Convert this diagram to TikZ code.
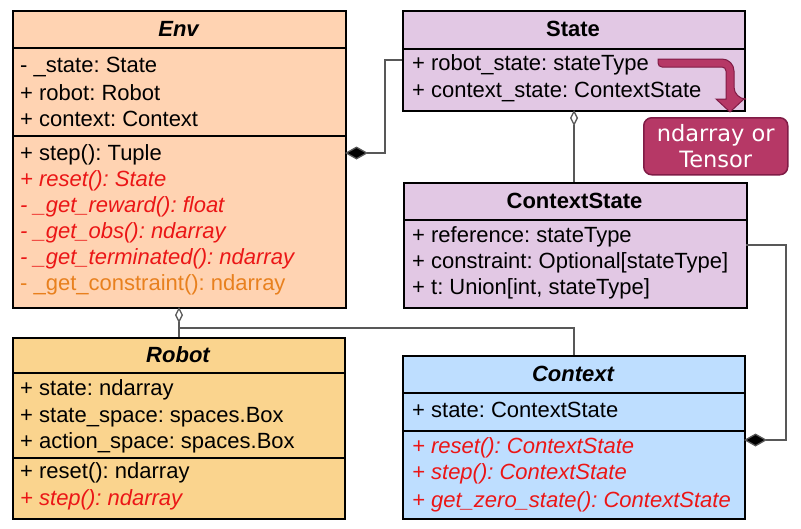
\documentclass[tikz,border=0pt]{standalone}
\usepackage{fontspec}
\setmainfont{Liberation Sans}
\newfontfamily\calloutfont{DejaVu Sans}
\usetikzlibrary{arrows.meta}
\frenchspacing

\definecolor{envfill}{RGB}{255,211,178}
\definecolor{robotfill}{RGB}{250,212,142}
\definecolor{statefill}{RGB}{226,200,228}
\definecolor{ctxfill}{RGB}{190,222,255}
\definecolor{abstractred}{RGB}{235,22,22}
\definecolor{hookorange}{RGB}{232,128,30}
\definecolor{calloutfill}{RGB}{182,56,102}
\definecolor{calloutedge}{RGB}{128,28,70}
\definecolor{linkgray}{RGB}{88,88,88}

\tikzset{
  classbox/.style={draw=black, line width=2pt, anchor=north west, inner sep=0pt},
  divider/.style={draw=black, line width=1.3pt},
  ctitle/.style={font=\fontsize{22}{24}\selectfont\bfseries, inner sep=0pt},
  row/.style={anchor=west, font=\fontsize{22}{24}\selectfont, inner sep=0pt},
  abstractrow/.style={row, text=abstractred, font=\fontsize{22}{24}\selectfont\itshape},
  hookrow/.style={row, text=hookorange},
  link/.style={draw=linkgray, line width=1.3pt},
  composite/.style={link, {Diamond[length=23pt, width=13pt, fill=black]}-},
  aggregate/.style={link, {Diamond[open, length=16pt, width=8pt, fill=white]}-},
}

\begin{document}
\begin{tikzpicture}[x=1pt, y=-1pt]
\useasboundingbox (0,0) rectangle (801,528);

% ---------- Env ----------
\node[classbox, fill=envfill, minimum width=333pt, minimum height=297pt] (env) at (12,10) {};
\draw[divider] (12,48) -- (345,48);
\draw[divider] (12,136) -- (345,136);
\node[ctitle] (env-t) at (178.5,29) {\itshape Env};
\node[row] (env-a1) at (20,67) {- \_state: State};
\node[row] (env-a2) at (20,93) {+ robot: Robot};
\node[row] (env-a3) at (20,119) {+ context: Context};
\node[row] (env-m1) at (20,155) {+ step(): Tuple};
\node[abstractrow] (env-m2) at (20,181) {+ reset(): State};
\node[abstractrow] (env-m3) at (20,207) {- \_get\_reward(): float};
\node[abstractrow] (env-m4) at (20,233) {- \_get\_obs(): ndarray};
\node[abstractrow] (env-m5) at (20,259) {- \_get\_terminated(): ndarray};
\node[hookrow] (env-m6) at (20,285) {- \_get\_constraint(): ndarray};

% ---------- State ----------
\node[classbox, fill=statefill, minimum width=342pt, minimum height=100pt] (state) at (402,10) {};
\draw[divider] (402,49) -- (744,49);
\node[ctitle] (state-t) at (573,29) {State};
\node[row] (state-a1) at (412,65) {+ robot\_state: stateType};
\node[row] (state-a2) at (412,92) {+ context\_state: ContextState};

% ---------- ContextState ----------
\node[classbox, fill=statefill, minimum width=343pt, minimum height=125pt] (cstate) at (403,182) {};
\draw[divider] (403,220) -- (746,220);
\node[ctitle] (cstate-t) at (574.5,201) {ContextState};
\node[row] (cstate-a1) at (412,237) {+ reference: stateType};
\node[row] (cstate-a2) at (412,263) {+ constraint: Optional[stateType]};
\node[row] (cstate-a3) at (412,289) {+ t: Union[int, stateType]};

% ---------- Robot ----------
\node[classbox, fill=robotfill, minimum width=332pt, minimum height=181pt] (robot) at (12,337) {};
\draw[divider] (12,373) -- (344,373);
\draw[divider] (12,458) -- (344,458);
\node[ctitle] (robot-t) at (178,355) {\itshape Robot};
\node[row] (robot-a1) at (20,390) {+ state: ndarray};
\node[row] (robot-a2) at (20,417) {+ state\_space: spaces.Box};
\node[row] (robot-a3) at (20,443) {+ action\_space: spaces.Box};
\node[row] (robot-m1) at (20,473) {+ reset(): ndarray};
\node[abstractrow] (robot-m2) at (20,500) {+ step(): ndarray};

% ---------- Context ----------
\node[classbox, fill=ctxfill, minimum width=342pt, minimum height=163pt] (ctx) at (402,355) {};
\draw[divider] (402,393) -- (744,393);
\draw[divider] (402,431) -- (744,431);
\node[ctitle] (ctx-t) at (573,374) {\itshape Context};
\node[row] (ctx-a1) at (412,410) {+ state: ContextState};
\node[abstractrow] (ctx-m1) at (412,448) {+ reset(): ContextState};
\node[abstractrow] (ctx-m2) at (412,474) {+ step(): ContextState};
\node[abstractrow] (ctx-m3) at (412,502) {+ get\_zero\_state(): ContextState};

% ---------- callout: concrete state type ----------
\node[draw=calloutedge, line width=1.5pt, fill=calloutfill, rounded corners=8pt,
      minimum width=144pt, minimum height=57pt, anchor=north west, inner sep=0pt,
      text=white, align=center, font=\calloutfont\fontsize{22.5}{26}\selectfont] (note) at (643,117)
      {ndarray or\\Tensor};
\filldraw[fill=calloutfill, draw=calloutedge, line width=1pt]
  (658,59) [rounded corners=12pt] -- (734,59) -- (734,99) [sharp corners] -- (744,99)
  -- (730,112) -- (716,99) -- (726,99) [rounded corners=4pt] -- (726,67) -- (658,67)
  [sharp corners] -- cycle;

% ---------- associations ----------
\coordinate (envR) at (345,153);
\coordinate (stateL) at (402,60);
\draw[composite] (envR) -- (385,153) |- (stateL);

\coordinate (stateB) at (574,110);
\draw[aggregate] (stateB) -- (cstate.north -| stateB);

\coordinate (cstateR) at (746,245);
\coordinate (ctxR) at (744,440);
\draw[composite] (ctxR) -- (786,440) |- (cstateR);

\coordinate (envB) at (179,307);
\coordinate (fork) at (179,328);
\draw[aggregate] (envB) -- (robot.north -| envB);
\draw[link] (fork) -- (574,328) -- (ctx.north -| stateB);
\end{tikzpicture}
\end{document}
